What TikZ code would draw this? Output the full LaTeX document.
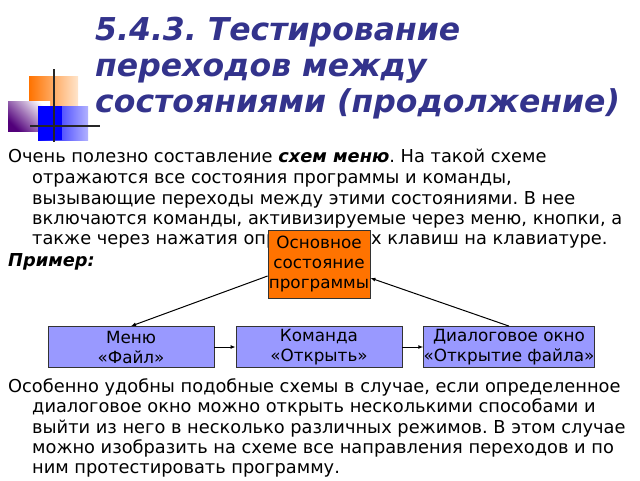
\documentclass[tikz,border=0pt]{standalone}
\usepackage{fontspec}
\setmainfont{DejaVu Sans}
\usetikzlibrary{arrows.meta}
\definecolor{ttl}{RGB}{51,51,140}
\frenchspacing
\begin{document}
\begin{tikzpicture}[x=1pt,y=-1pt,
  tl/.style={anchor=base west,inner sep=0,text=ttl,font=\fontsize{31.5}{36}\selectfont\bfseries\itshape},
  bl/.style={anchor=base west,inner sep=0,font=\fontsize{17.8}{22}\selectfont},
  bx/.style={draw=black!80,line width=0.8pt,minimum width=166pt,minimum height=41pt,fill=blue!40!white,align=center,inner sep=0pt,font=\fontsize{16.8}{20}\selectfont},
  ar/.style={-{Latex[length=5pt,width=4pt]},line width=1pt}]
\useasboundingbox (0,0) rectangle (640,480);
% logo
\shade[left color=orange!90!red,right color=orange!20!white] (29,76) rectangle (78,107);
\shade[left color=blue!60!red!80!black,right color=white,shading angle=135] (8,101) rectangle (50,131);
\shade[left color=blue,right color=blue!30!white] (38,106) rectangle (88,140);
\fill[blue] (38,106) rectangle (62,140);
\draw[line width=1.3pt,black!85] (54,69) -- (54,142);
\draw[line width=1.3pt,black!85] (30,126) -- (100,126);
% title
\node[tl] (t1) at (95,40) {5.4.3. Тестирование};
\node[tl] (t2) at (95,76) {переходов между};
\node[tl] (t3) at (95,112) {состояниями (продолжение)};
% body
\node[bl] (b1) at (8,162) {Очень полезно составление \textbf{\textit{схем меню}}. На такой схеме};
\node[bl] (b2) at (32,183) {отражаются все состояния программы и команды,};
\node[bl] (b3) at (32,204) {вызывающие переходы между этими состояниями. В нее};
\node[bl] (b4) at (32,224) {включаются команды, активизируемые через меню, кнопки, а};
\node[bl] (b5) at (32,244) {также через нажатия определенных клавиш на клавиатуре.};
\node[bl] (b6) at (8,266) {\textbf{\textit{Пример:}}};
\node[bl] (c1) at (8,392) {Особенно удобны подобные схемы в случае, если определенное};
\node[bl] (c2) at (32,412) {диалоговое окно можно открыть несколькими способами и};
\node[bl] (c3) at (32,433) {выйти из него в несколько различных режимов. В этом случае};
\node[bl] (c4) at (32,453) {можно изобразить на схеме все направления переходов и по};
\node[bl] (c5) at (32,473) {ним протестировать программу.};
% diagram
\node[bx,fill=orange!90!red,minimum width=102pt,minimum height=68pt] (os) at (319,264) {Основное\\состояние\\программы};
\node[bx] (m) at (131,347) {Меню\\«Файл»};
\node[bx] (k) at (319,347) {Команда\\«Открыть»};
\node[bx] (d) at (509,347) {Диалоговое окно\\«Открытие файла»};
\draw[ar] (os.west |- 0,276) -- (m.north);
\draw[ar] (d.north) -- (os.east |- 0,278);
\draw[ar] (m) -- (k);
\draw[ar] (k) -- (d);
\end{tikzpicture}
\end{document}
